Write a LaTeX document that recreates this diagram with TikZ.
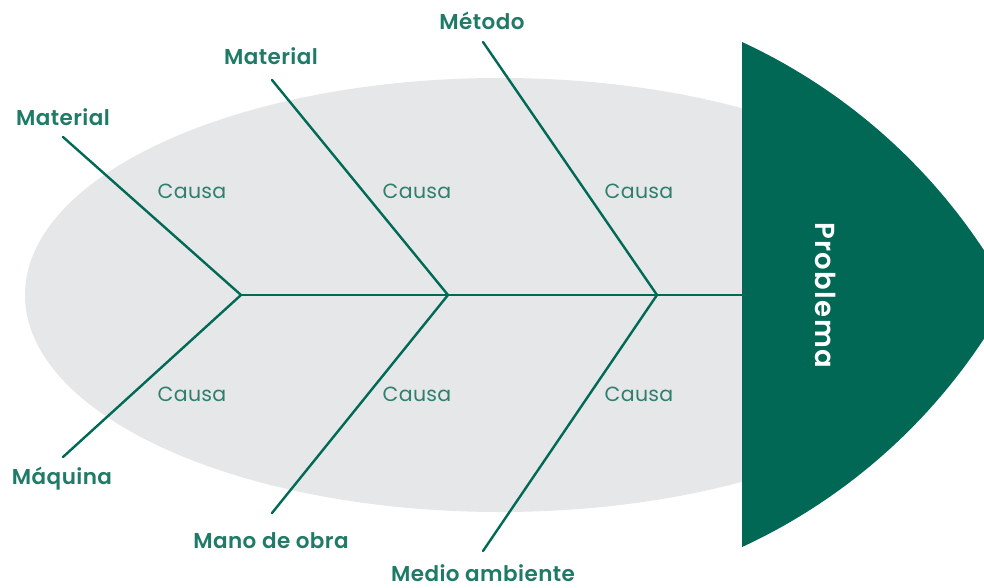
\documentclass[tikz,border=0pt]{standalone}
\usepackage{fontspec}
\setmainfont{Poppins}[BoldFont=* SemiBold]
\definecolor{headgreen}{HTML}{006855}
\definecolor{bonegreen}{HTML}{006A56}
\definecolor{labelgreen}{HTML}{1F7A67}
\definecolor{causagreen}{HTML}{2E7F6E}
\definecolor{bodygray}{HTML}{E6E7E8}
\tikzset{
  bone/.style={draw=bonegreen, line width=2.4pt, line cap=round},
  catlabel/.style={font=\fontsize{21.5}{25}\selectfont\bfseries\addfontfeatures{LetterSpace=2}, text=labelgreen, inner sep=0pt},
  causalabel/.style={font=\fontsize{20.5}{24}\selectfont\addfontfeatures{LetterSpace=1.5}, text=causagreen, inner sep=0pt},
}
\begin{document}
\begin{tikzpicture}[x=1pt,y=1pt]
\useasboundingbox (0,0) rectangle (984,587);
% body
\fill[bodygray] (500,292) ellipse [x radius=475, y radius=217];
% head
\fill[headgreen] (742,545) arc[start angle=65.17, end angle=28.32, radius=583]
  arc[start angle=-28.32, end angle=-65.17, radius=583] -- cycle;
\node[rotate=-90, text=white, font=\fontsize{27.5}{31}\selectfont\bfseries\addfontfeatures{LetterSpace=5}, inner sep=0pt] (problema) at (826,292) {Problema};
% junctions
\coordinate (j1) at (241,292);
\coordinate (j2) at (448,292);
\coordinate (j3) at (657,292);
\coordinate (spineend) at (742,292);
% bone ends
\coordinate (u1) at (63,450);
\coordinate (u2) at (272,507);
\coordinate (u3) at (483,545);
\coordinate (l1) at (63,130);
\coordinate (l2) at (272,74);
\coordinate (l3) at (483,36);
% bones
\draw[bone] (j1) -- (spineend);
\draw[bone] (u1) -- (j1) -- (l1);
\draw[bone] (u2) -- (j2) -- (l2);
\draw[bone] (u3) -- (j3) -- (l3);
% category labels
\node[catlabel] (mat1) at (63,470) {Material};
\node[catlabel] (mat2) at (271,531) {Material};
\node[catlabel] (metodo) at (482,566) {Método};
\node[catlabel] (maquina) at (62,108) {Máquina};
\node[catlabel] (mano) at (271,46) {Mano de obra};
\node[catlabel] (medio) at (483,14) {Medio ambiente};
% causes
\node[causalabel] (c1) at (192,396) {Causa};
\node[causalabel] (c2) at (417,396) {Causa};
\node[causalabel] (c3) at (639,396) {Causa};
\node[causalabel] (c4) at (192,193) {Causa};
\node[causalabel] (c5) at (417,193) {Causa};
\node[causalabel] (c6) at (639,193) {Causa};
\end{tikzpicture}
\end{document}
